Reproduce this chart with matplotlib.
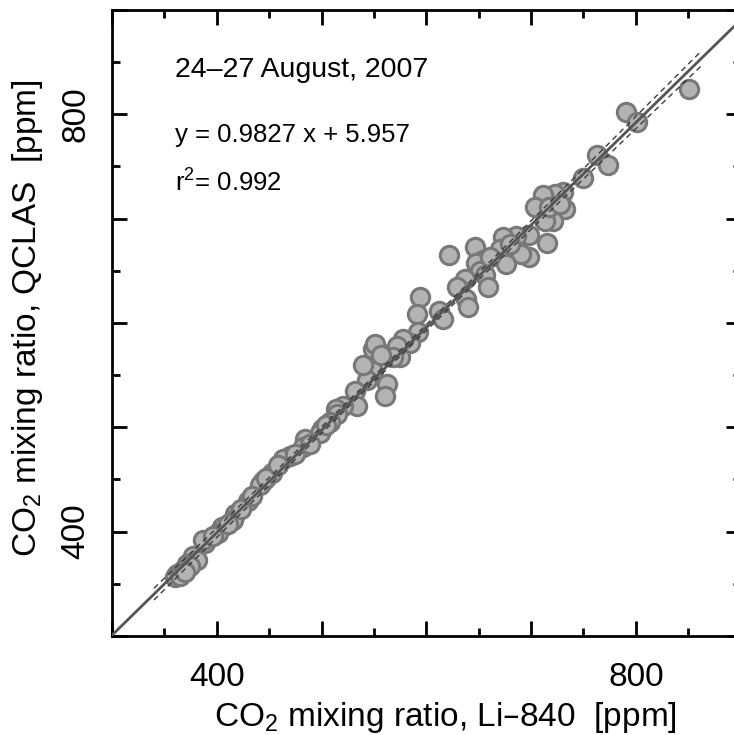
from matplotlib import pyplot as plt
from matplotlib.ticker import FixedLocator, FixedFormatter
import numpy as np

plt.rcParams['font.family'] = ['Liberation Sans', 'DejaVu Sans']
plt.rcParams['mathtext.default'] = 'regular'

# CO2 mixing ratios (ppm): Li-840 (x) vs QCLAS (y)
li840 = [850.6, 790.5, 801.0, 762.8, 773.3, 749.4, 730.3, 722.7, 711.2, 732.2,
         703.6, 720.8, 713.1, 715.0, 697.9, 685.4, 673.0, 697.9, 690.2, 670.2,
         675.9, 646.3, 621.5, 653.9, 647.3, 651.1, 655.8, 658.7, 636.8, 629.1,
         637.7, 639.6, 611.9, 615.8, 593.8, 590.9, 591.9, 584.2, 577.6, 574.7,
         571.8, 568.0, 553.7, 548.9, 548.9, 543.2, 562.3, 560.4, 531.7, 533.7,
         520.3, 513.6, 514.6, 507.9, 500.2, 498.3, 484.0, 482.1, 469.7, 463.0,
         452.5, 443.9, 441.1, 429.6, 417.2, 415.3, 404.8, 401.0, 388.5, 386.6,
         377.1, 380.9, 371.4, 374.2, 367.5, 361.8, 359.9, 364.7, 369.5, 716.9,
         727.4, 679.7, 660.6, 550.8, 556.6, 539.4, 396.2, 410.5, 422.9, 433.4,
         446.8, 458.2, 474.5, 488.8, 504.1]
qclas = [824.0, 801.9, 792.3, 760.6, 751.9, 739.4, 726.0, 724.0, 723.1, 709.6,
         711.5, 698.1, 698.1, 676.9, 684.6, 683.7, 682.7, 663.5, 666.3, 671.2,
         656.7, 673.1, 665.4, 660.6, 657.7, 650.0, 646.2, 634.6, 642.3, 634.6,
         623.1, 615.4, 611.5, 603.8, 625.0, 608.7, 591.3, 580.8, 584.6, 567.3,
         577.9, 567.3, 573.1, 575.0, 553.8, 545.2, 541.3, 529.8, 534.6, 520.2,
         520.2, 517.3, 512.5, 504.8, 498.1, 494.2, 488.5, 480.8, 472.1, 469.2,
         456.7, 448.1, 445.2, 429.8, 417.3, 411.5, 404.8, 399.0, 389.4, 392.3,
         376.9, 373.1, 369.2, 367.3, 363.5, 359.6, 356.7, 357.7, 361.5, 711.5,
         714.4, 676.0, 663.5, 579.8, 569.2, 559.6, 396.2, 407.7, 422.1, 434.6,
         451.9, 463.5, 474.0, 483.7, 501.9]

slope, intercept = 0.9827, 5.957
r2 = 0.992

x = np.array(li840)
y = np.array(qclas)

fig = plt.figure(figsize=(7.34, 7.35), dpi=100)
ax = fig.add_axes([0.1526, 0.1347, 0.8564, 0.8517])

ax.scatter(x, y, s=175, facecolor='#b3b3b3', edgecolor='#787878',
           linewidths=2.2, zorder=2)

# regression line over the full axis
xl = np.array([300, 900])
ax.plot(xl, slope * xl + intercept, color='#555555', lw=2.0, zorder=3)

# 95% confidence band of the fit
n = len(x)
res = y - (slope * x + intercept)
s = np.sqrt(np.sum(res ** 2) / (n - 2))
xb = np.linspace(340, 863, 200)
half = 1.98 * s * np.sqrt(1.0 / n + (xb - x.mean()) ** 2 / np.sum((x - x.mean()) ** 2))
yb = slope * xb + intercept
for sign in (-1, 1):
    ax.plot(xb, yb + sign * half, color='#3a3a3a', lw=1.0,
            linestyle=(0, (4, 3)), zorder=3)

ax.set_xlim(300, 900)
ax.set_ylim(300, 900)

major = [300, 400, 500, 600, 700, 800, 900]
labels = ['', '400', '', '', '', '800', '']
for axis in (ax.xaxis, ax.yaxis):
    axis.set_major_locator(FixedLocator(major))
    axis.set_major_formatter(FixedFormatter(labels))
    axis.set_minor_locator(FixedLocator(np.arange(350, 900, 100)))

ax.tick_params(which='both', direction='in', top=True, right=True, width=2.0)
ax.tick_params(which='major', length=11)
ax.tick_params(which='minor', length=5.5)
ax.tick_params(axis='x', labelsize=24, pad=19)
ax.tick_params(axis='y', labelsize=24, pad=15, labelrotation=90)
for lab in ax.get_yticklabels():
    lab.set_va('center')
for sp in ax.spines.values():
    sp.set_linewidth(2.0)

ax.set_xlabel('CO$_2$ mixing ratio, Li\u2013840  [ppm]', fontsize=24, va='center')
ax.xaxis.set_label_coords(0.53, -0.13)
ax.set_ylabel('CO$_2$ mixing ratio, QCLAS  [ppm]', fontsize=24, va='center')
ax.yaxis.set_label_coords(-0.134, 0.508)

ax.text(0.10, 0.904, '24\u201327 August, 2007', transform=ax.transAxes,
        fontsize=20.5, va='center', ha='left')
ax.text(0.10, 0.80, 'y = %.4f x + %.3f' % (slope, intercept), transform=ax.transAxes,
        fontsize=18.5, va='center', ha='left')
ax.text(0.10, 0.724, 'r$^2$= %.3f' % r2, transform=ax.transAxes,
        fontsize=18.5, va='center', ha='left')

plt.savefig('out.png', dpi=100)
